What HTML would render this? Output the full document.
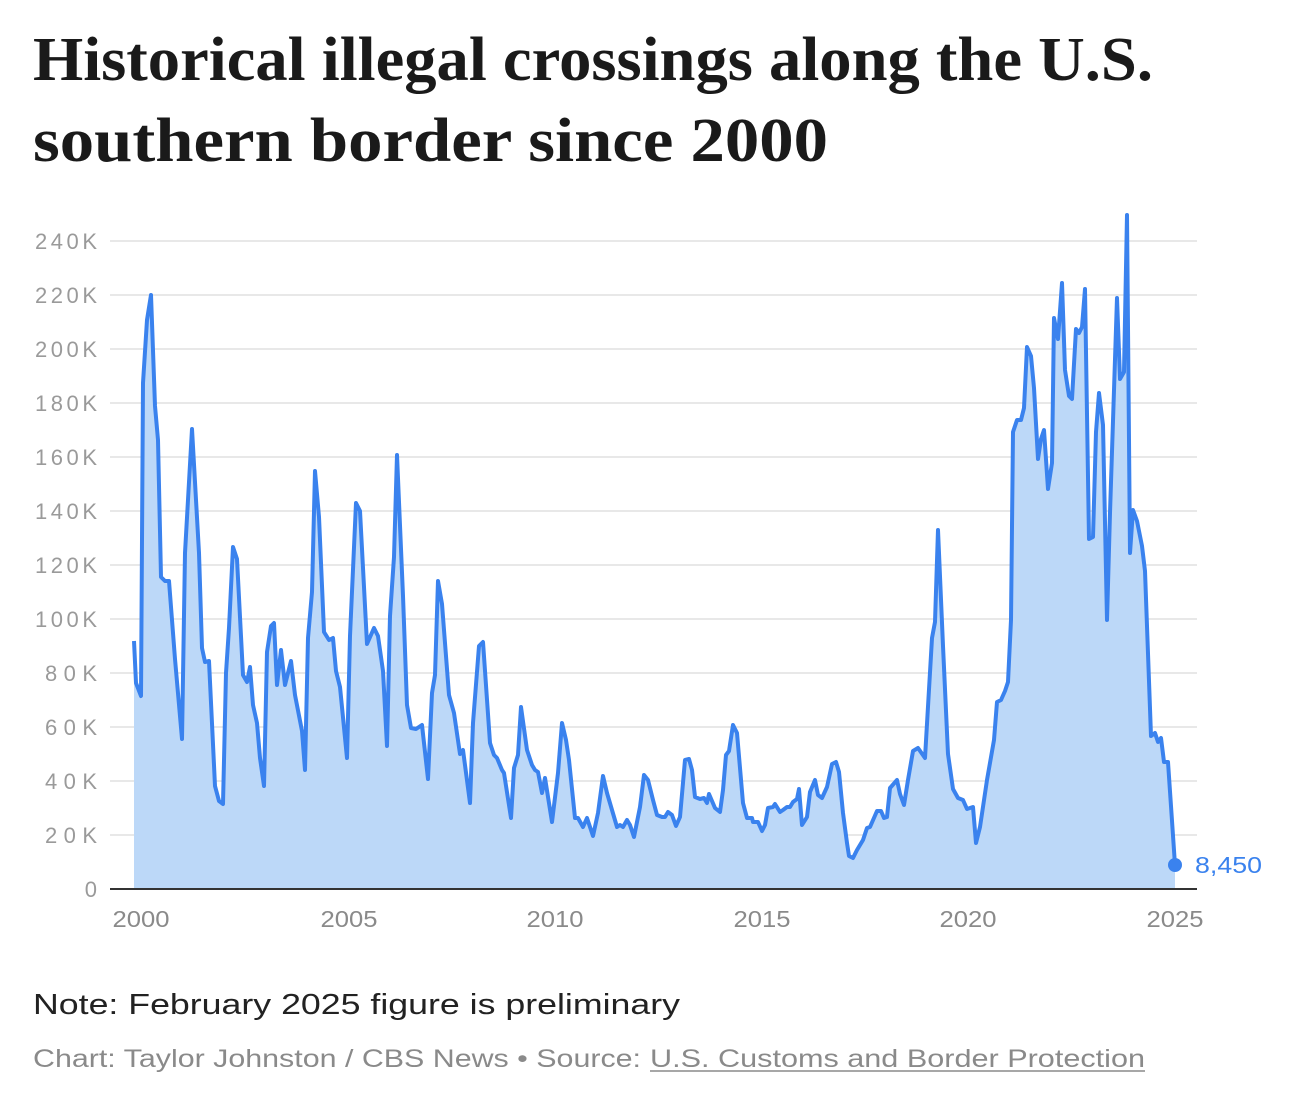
<!DOCTYPE html>
<html><head><meta charset="utf-8"><style>
html,body{margin:0;padding:0;background:#fff;}
svg{display:block;}
</style></head><body>
<svg width="1297" height="1101" viewBox="0 0 1297 1101" xmlns="http://www.w3.org/2000/svg">
<g font-family="Liberation Serif, serif" font-weight="bold" font-size="62" fill="#1a1a1a">
<text x="33" y="80" textLength="1120" lengthAdjust="spacingAndGlyphs">Historical illegal crossings along the U.S.</text>
<text x="33" y="161" textLength="795" lengthAdjust="spacingAndGlyphs">southern border since 2000</text>
</g>
<g stroke="#e8e8e8" stroke-width="2">
<line x1="110" x2="1197" y1="835" y2="835"/><line x1="110" x2="1197" y1="781" y2="781"/>
<line x1="110" x2="1197" y1="727" y2="727"/><line x1="110" x2="1197" y1="673" y2="673"/>
<line x1="110" x2="1197" y1="619" y2="619"/><line x1="110" x2="1197" y1="565" y2="565"/>
<line x1="110" x2="1197" y1="511" y2="511"/><line x1="110" x2="1197" y1="457" y2="457"/>
<line x1="110" x2="1197" y1="403" y2="403"/><line x1="110" x2="1197" y1="349" y2="349"/>
<line x1="110" x2="1197" y1="295" y2="295"/><line x1="110" x2="1197" y1="241" y2="241"/>
</g>
<g font-family="Liberation Sans, sans-serif" font-size="22" fill="#9a9a9a" text-anchor="end" lengthAdjust="spacingAndGlyphs">
<text x="97" y="897">0</text>
<text x="97" y="843" textLength="52">20K</text><text x="97" y="789" textLength="52">40K</text>
<text x="97" y="735" textLength="52">60K</text><text x="97" y="681" textLength="52">80K</text>
<text x="97" y="627" textLength="62">100K</text><text x="97" y="573" textLength="62">120K</text>
<text x="97" y="519" textLength="62">140K</text><text x="97" y="465" textLength="62">160K</text>
<text x="97" y="411" textLength="62">180K</text><text x="97" y="357" textLength="62">200K</text>
<text x="97" y="303" textLength="62">220K</text><text x="97" y="249" textLength="62">240K</text>
</g>
<path fill="#bcd8f8" stroke="none" d="M134,889 L134,641 136,683 141,696 143,383 147,320 151,295 155,406 158,440 161,577 165,581 169,581 175,659 182,739 185,553 192,429 199,553 202,648 205,662 209,661 215,786 219,801 223,804 226,673 229,628 233,547 237,559 243,675 247,682 250,667 253,705 257,723 260,758 264,786 267,652 271,626 274,623 277,685 281,650 285,685 291,661 295,695 302,731 305,770 308,638 312,592 315,471 319,517 324,632 329,640 333,638 336,671 340,687 347,758 350,636 356,503 360,511 367,644 374,628 378,636 383,671 387,746 390,616 394,557 397,455 403,596 407,705 411,728 416,729 422,725 428,779 432,693 435,675 438,581 442,604 449,695 454,713 460,754 463,750 470,803 473,723 479,646 483,642 490,743 494,755 497,758 502,770 504,773 511,818 514,768 518,755 521,707 527,750 532,765 535,770 538,772 542,793 545,778 552,822 558,773 562,723 566,740 569,760 575,818 578,818 583,827 587,818 593,836 598,813 603,776 607,793 612,810 617,827 620,825 623,827 627,820 630,825 634,837 640,807 644,775 648,780 653,800 657,815 662,817 665,817 668,812 672,815 676,826 680,817 685,760 689,759 692,770 695,797 700,799 704,798 707,803 709,794 715,808 720,812 723,790 726,755 729,751 733,725 737,733 743,803 747,818 752,818 753,822 758,822 762,831 765,825 768,808 773,807 775,804 780,812 783,810 787,807 790,807 793,802 797,799 799,789 802,825 807,817 810,792 815,780 818,795 822,798 827,787 832,764 836,762 839,772 843,813 847,843 849,856 853,858 857,850 863,840 867,828 870,827 877,811 881,811 884,818 887,817 890,788 897,780 900,794 904,805 908,780 913,751 918,748 925,758 932,638 935,622 938,530 943,646 948,754 953,789 958,798 963,800 967,809 973,807 976,843 980,827 987,780 994,740 997,702 1001,700 1005,691 1008,682 1011,620 1013,432 1017,420 1021,420 1024,408 1027,347 1031,356 1034,388 1038,459 1041,439 1044,430 1048,489 1052,463 1054,318 1058,339 1062,283 1065,370 1069,396 1072,399 1076,329 1079,333 1082,327 1085,289 1089,539 1093,537 1096,432 1099,393 1103,425 1107,620 1110,513 1117,298 1120,379 1124,372 1127,215 1130,553 1133,510 1137,521 1142,546 1145,571 1151,736 1155,733 1158,742 1161,738 1164,762 1168,762 1175,865 L1175,889 Z"/>
<polyline fill="none" stroke="#3a82ee" stroke-width="4" stroke-linejoin="round" points="134,641 136,683 141,696 143,383 147,320 151,295 155,406 158,440 161,577 165,581 169,581 175,659 182,739 185,553 192,429 199,553 202,648 205,662 209,661 215,786 219,801 223,804 226,673 229,628 233,547 237,559 243,675 247,682 250,667 253,705 257,723 260,758 264,786 267,652 271,626 274,623 277,685 281,650 285,685 291,661 295,695 302,731 305,770 308,638 312,592 315,471 319,517 324,632 329,640 333,638 336,671 340,687 347,758 350,636 356,503 360,511 367,644 374,628 378,636 383,671 387,746 390,616 394,557 397,455 403,596 407,705 411,728 416,729 422,725 428,779 432,693 435,675 438,581 442,604 449,695 454,713 460,754 463,750 470,803 473,723 479,646 483,642 490,743 494,755 497,758 502,770 504,773 511,818 514,768 518,755 521,707 527,750 532,765 535,770 538,772 542,793 545,778 552,822 558,773 562,723 566,740 569,760 575,818 578,818 583,827 587,818 593,836 598,813 603,776 607,793 612,810 617,827 620,825 623,827 627,820 630,825 634,837 640,807 644,775 648,780 653,800 657,815 662,817 665,817 668,812 672,815 676,826 680,817 685,760 689,759 692,770 695,797 700,799 704,798 707,803 709,794 715,808 720,812 723,790 726,755 729,751 733,725 737,733 743,803 747,818 752,818 753,822 758,822 762,831 765,825 768,808 773,807 775,804 780,812 783,810 787,807 790,807 793,802 797,799 799,789 802,825 807,817 810,792 815,780 818,795 822,798 827,787 832,764 836,762 839,772 843,813 847,843 849,856 853,858 857,850 863,840 867,828 870,827 877,811 881,811 884,818 887,817 890,788 897,780 900,794 904,805 908,780 913,751 918,748 925,758 932,638 935,622 938,530 943,646 948,754 953,789 958,798 963,800 967,809 973,807 976,843 980,827 987,780 994,740 997,702 1001,700 1005,691 1008,682 1011,620 1013,432 1017,420 1021,420 1024,408 1027,347 1031,356 1034,388 1038,459 1041,439 1044,430 1048,489 1052,463 1054,318 1058,339 1062,283 1065,370 1069,396 1072,399 1076,329 1079,333 1082,327 1085,289 1089,539 1093,537 1096,432 1099,393 1103,425 1107,620 1110,513 1117,298 1120,379 1124,372 1127,215 1130,553 1133,510 1137,521 1142,546 1145,571 1151,736 1155,733 1158,742 1161,738 1164,762 1168,762 1175,865"/>
<line x1="110" x2="1197" y1="889" y2="889" stroke="#333" stroke-width="2"/>
<circle cx="1175" cy="865" r="7" fill="#3a82ee"/>
<text x="1195" y="873" font-family="Liberation Sans, sans-serif" font-size="23" fill="#3a82ee" textLength="67" lengthAdjust="spacingAndGlyphs">8,450</text>
<g font-family="Liberation Sans, sans-serif" font-size="23" fill="#8a8a8a" text-anchor="middle">
<text x="141" y="927" textLength="57" lengthAdjust="spacingAndGlyphs">2000</text>
<text x="349" y="927" textLength="57" lengthAdjust="spacingAndGlyphs">2005</text>
<text x="555" y="927" textLength="57" lengthAdjust="spacingAndGlyphs">2010</text>
<text x="762" y="927" textLength="57" lengthAdjust="spacingAndGlyphs">2015</text>
<text x="968" y="927" textLength="57" lengthAdjust="spacingAndGlyphs">2020</text>
<text x="1175" y="927" textLength="57" lengthAdjust="spacingAndGlyphs">2025</text>
</g>
<text x="33" y="1014" font-family="Liberation Sans, sans-serif" font-size="29" fill="#222" textLength="647" lengthAdjust="spacingAndGlyphs">Note: February 2025 figure is preliminary</text>
<text x="33" y="1067" font-family="Liberation Sans, sans-serif" font-size="25" fill="#8a8a8a" textLength="608" lengthAdjust="spacingAndGlyphs">Chart: Taylor Johnston / CBS News • Source:</text>
<text x="650" y="1067" font-family="Liberation Sans, sans-serif" font-size="25" fill="#8a8a8a" textLength="495" lengthAdjust="spacingAndGlyphs">U.S. Customs and Border Protection</text>
<line x1="650" x2="1145" y1="1071" y2="1071" stroke="#8a8a8a" stroke-width="1.5"/>
</svg>
</body></html>
